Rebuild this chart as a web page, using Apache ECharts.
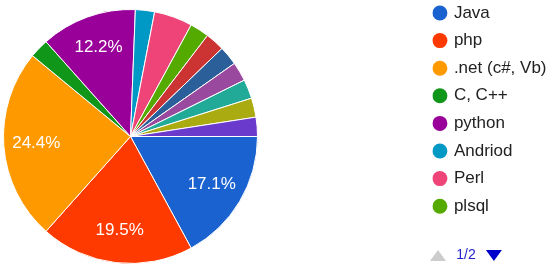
<!DOCTYPE html>
<html><head><meta charset="utf-8">
<script src="https://cdn.jsdelivr.net/npm/echarts@6/dist/echarts.min.js"></script>
<style>html,body{margin:0;padding:0;background:#fff}#c{width:550px;height:274px}</style>
</head><body><div id="c"></div>
<script>
const categories = ['Java', 'php', '.net (c#, Vb)', 'C, C++', 'python', 'Andriod', 'Perl', 'plsql', 'Ruby', 'Delphi', 'Go', 'Scala', 'Swift', 'Cobol'];
const values = [7, 8, 10, 1, 5, 1, 2, 1, 1, 1, 1, 1, 1, 1];
const colors = ['#1a62d0', '#ff3a00', '#ff9900', '#109618', '#990099', '#0099c6', '#ee4477', '#55aa00', '#cc3333', '#2a5f9a', '#9a4a9e', '#22aa99', '#aaaa11', '#6a3acc'];
const pageFormat = '{current}/{total}';

const FONT = 'Arial, "Liberation Sans", sans-serif';
const data = categories.map((n, i) => ({ name: n, value: values[i] }));
const chart = echarts.init(document.getElementById('c'), null, { renderer: 'canvas' });
chart.setOption({
  animation: false,
  color: colors,
  legend: {
    type: 'scroll', orient: 'vertical', left: 430, top: 4.5, height: 258, padding: 0,
    itemWidth: 18, itemHeight: 15, itemGap: 10.6, icon: 'circle',
    itemStyle: { borderWidth: 0 },
    textStyle: { fontSize: 17, color: '#222', fontFamily: FONT },
    pageButtonItemGap: 4, pageButtonGap: 34, pageIconSize: [63, 11],
    pageIcons: { vertical: ['path://M0,11L16,11L8,0z', 'path://M0,0L16,0L8,11zM63,0'] },
    pageIconColor: '#0000cc', pageIconInactiveColor: '#cccccc',
    pageTextStyle: { color: '#2222cc', fontSize: 14, fontFamily: FONT },
    pageFormatter: pageFormat,
    data: categories
  },
  series: [
    {
      type: 'pie', center: [130.5, 136.5], radius: [0, 127], startAngle: 0, clockwise: true,
      itemStyle: { borderColor: '#fff', borderWidth: 1 },
      label: { show: false }, labelLine: { show: false },
      emphasis: { scale: false },
      data: data
    },
    {
      type: 'pie', center: [130.5, 136.5], radius: [56, 127], startAngle: 0, clockwise: true,
      silent: true, legendHoverLink: false,
      itemStyle: { color: 'rgba(0,0,0,0)', borderWidth: 0 },
      label: {
        show: true, position: 'inside', color: '#fff', fontSize: 17, fontFamily: FONT,
        formatter: p => p.percent >= 10 ? p.percent.toFixed(1) + '%' : ''
      },
      labelLine: { show: false },
      data: data
    }
  ]
});
</script></body></html>
